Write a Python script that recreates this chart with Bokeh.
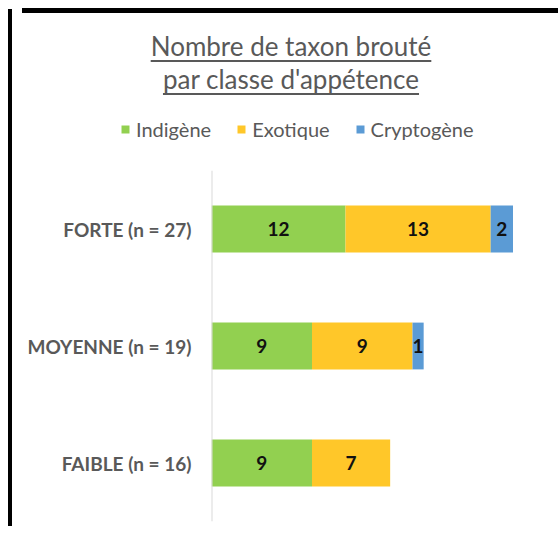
from bokeh.plotting import figure
from bokeh.models import ColumnDataSource, FactorRange, Range1d, Span, Legend, LegendItem, Div
from bokeh.layouts import column, row
from bokeh.embed import file_html
from bokeh.resources import INLINE
from bokeh.core.properties import value

# ---- data ----
categories = ["FORTE (n = 27)", "MOYENNE (n = 19)", "FAIBLE (n = 16)"]
series_names = ["Indigène", "Exotique", "Cryptogène"]
indigene = [12, 9, 9]
exotique = [13, 9, 7]
cryptogene = [2, 1, 0]
colors = ["#92D050", "#FFC729", "#5B9BD5"]
title_lines = ["Nombre de taxon brouté", "par classe d'appétence"]

keys = ["indigene", "exotique", "cryptogene"]
src = ColumnDataSource(dict(cat=categories, indigene=indigene, exotique=exotique, cryptogene=cryptogene))

# label positions (segment centres) computed from the data
lx, ly, lt = [], [], []
for i, c in enumerate(categories):
    start = 0
    for vals in (indigene, exotique, cryptogene):
        v = vals[i]
        if v > 0:
            lx.append(start + v / 2)
            ly.append(c)
            lt.append(str(v))
        start += v
lab_src = ColumnDataSource(dict(x=lx, y=ly, t=lt))

GREY = "#595959"
FONT = "Lato"
W = 538
H_TITLE = 96
H_LEG = 50
H_MAIN = 375

# ---- main chart ----
p = figure(width=W, height=H_MAIN,
           y_range=FactorRange(factors=list(reversed(categories))),
           x_range=Range1d(0, 30),
           output_backend="svg", toolbar_location=None,
           min_border_left=194, min_border_right=9,
           min_border_top=14, min_border_bottom=10)

rs = p.hbar_stack(keys, y="cat", height=0.4, color=colors, line_color=None, source=src)

p.text(x="x", y="y", text="t", source=lab_src, text_align="center", text_baseline="middle",
       text_font=value(FONT), text_font_style="bold", text_font_size=value("19px"),
       text_color="#111111")

p.add_layout(Span(location=0, dimension="height", line_color="#D9D9D9", line_width=2))

p.xaxis.visible = False
p.xgrid.visible = False
p.ygrid.visible = False
p.outline_line_color = None
p.yaxis.axis_line_color = None
p.yaxis.major_tick_line_color = None
p.yaxis.minor_tick_line_color = None
p.yaxis.major_tick_out = 0
p.yaxis.major_tick_in = 0
p.yaxis.major_label_standoff = 20
p.yaxis.major_label_text_font = FONT
p.yaxis.major_label_text_font_style = "bold"
p.yaxis.major_label_text_font_size = "19px"
p.yaxis.major_label_text_color = GREY

# ---- legend strip: same series, drawn out of view, only the legend shows ----
pl = figure(width=W, height=H_LEG, x_range=Range1d(-10, -9),
            y_range=FactorRange(factors=list(reversed(categories))),
            output_backend="svg", toolbar_location=None,
            min_border_left=0, min_border_right=0, min_border_top=0, min_border_bottom=0)
pl.axis.visible = False
pl.grid.visible = False
pl.outline_line_color = None
lrs = pl.hbar_stack(keys, y="cat", height=0.4, color=colors, line_color=None, source=src)
legend = Legend(items=[LegendItem(label=n, renderers=[r]) for n, r in zip(series_names, lrs)],
                orientation="horizontal", location=(103, 15),
                glyph_width=10, glyph_height=10, label_standoff=6, spacing=25,
                label_text_font=FONT, label_text_font_size="20px", label_text_color=GREY,
                border_line_color=None, background_fill_alpha=0, padding=0, margin=0)
pl.add_layout(legend, "center")

# ---- title (with the top black frame line) ----
title_html = (
    '<div style="width:%dpx;height:%dpx;overflow:hidden;padding-top:3px;box-sizing:border-box;">'
    '<div style="border-top:5px solid #000;text-align:center;padding-top:17px;padding-left:0px;'
    'font-family:Lato;font-size:26px;line-height:33px;color:#595959;">' % (W, H_TITLE)
    + "<br>".join(
        '<span style="text-decoration:underline;text-decoration-thickness:2px;'
        'text-underline-offset:4px;">%s</span>' % t for t in title_lines)
    + "</div></div>"
)
title = Div(text=title_html, width=W, height=H_TITLE)

H_ALL = H_TITLE + H_LEG + H_MAIN
left_bar = Div(text='<div style="width:4px;height:%dpx;margin-left:3px;margin-top:4px;background:#000;"></div>'
               % (H_ALL - 4), width=7, height=H_ALL)

layout = row(left_bar, column(title, row(pl), p, spacing=0), spacing=0)

open("out.html", "w").write(file_html(layout, INLINE))
